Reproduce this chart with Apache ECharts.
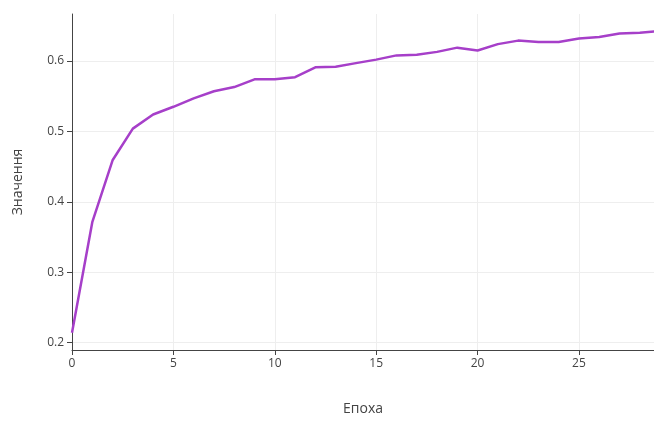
<!DOCTYPE html>
<html><head><meta charset="utf-8">
<script src="https://cdn.jsdelivr.net/npm/echarts@6/dist/echarts.min.js"></script>
<style>html,body{margin:0;padding:0;background:#fff}#c{width:654px;height:421px}</style>
</head><body><div id="c"></div>
<script>
const epochs = [0,1,2,3,4,5,6,7,8,9,10,11,12,13,14,15,16,17,18,19,20,21,22,23,24,25,26,27,28,29];
const values = [0.214,0.371,0.459,0.504,0.524,0.535,0.547,0.557,0.563,0.574,0.574,0.577,0.591,0.592,0.597,0.602,0.608,0.609,0.613,0.619,0.615,0.624,0.629,0.627,0.627,0.632,0.634,0.639,0.640,0.643];
const xTicks = [0,5,10,15,20,25];
const yTicks = [0.2,0.3,0.4,0.5,0.6];
const xTitle = 'Епоха';
const yTitle = 'Значення';

const chart = echarts.init(document.getElementById('c'), null, {renderer:'canvas'});
const font = '"Open Sans", "DejaVu Sans", sans-serif';
chart.setOption({
  animation:false,
  grid:{left:72, top:14, right:0, height:337, containLabel:false},
  xAxis:{
    type:'value', min:0, max:28.7,
    name:xTitle, nameLocation:'middle', nameGap:52,
    nameTextStyle:{color:'#444', fontSize:14, fontFamily:font},
    axisLine:{show:true, onZero:false, lineStyle:{color:'#444', width:1}},
    axisTick:{show:true, length:5, customValues:xTicks, lineStyle:{color:'#444'}},
    axisLabel:{customValues:xTicks, color:'#444', fontSize:12, fontFamily:font, margin:8},
    splitLine:{show:true, lineStyle:{color:'#eee', width:1}}
  },
  yAxis:{
    type:'value', min:0.1895, max:0.6668,
    name:yTitle, nameLocation:'middle', nameGap:47, nameRotate:90,
    nameTextStyle:{color:'#444', fontSize:14, fontFamily:font},
    axisLine:{show:true, onZero:false, lineStyle:{color:'#444', width:1}},
    axisTick:{show:true, length:5, customValues:yTicks, lineStyle:{color:'#444'}},
    axisLabel:{customValues:yTicks, color:'#444', fontSize:12, fontFamily:font, margin:8,
      formatter:v=>(Math.round(v*10)/10).toFixed(1)},
    splitLine:{show:true, lineStyle:{color:'#eee', width:1}}
  },
  series:[{
    type:'line', data:epochs.map((e,i)=>[e, values[i]]),
    showSymbol:false, clip:true,
    lineStyle:{color:'#a63fc9', width:2.5},
    itemStyle:{color:'#a63fc9'}
  }]
});
</script></body></html>
